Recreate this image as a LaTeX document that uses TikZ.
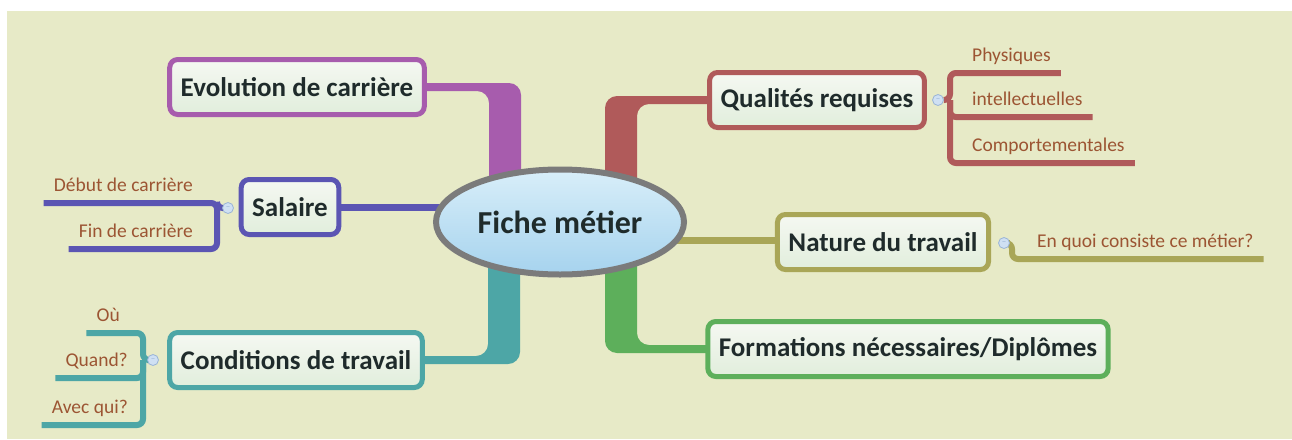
\documentclass[tikz,border=0pt]{standalone}
\usepackage{fontspec}
\setmainfont{Carlito}
\usetikzlibrary{shapes.geometric,backgrounds}

\definecolor{bgbeige}{RGB}{231,234,199}
\definecolor{cpurple}{RGB}{167,92,173}
\definecolor{cred}{RGB}{176,90,90}
\definecolor{cblue}{RGB}{91,85,179}
\definecolor{cteal}{RGB}{77,166,166}
\definecolor{colive}{RGB}{169,166,87}
\definecolor{cgreen}{RGB}{93,175,91}
\definecolor{ctext}{RGB}{31,43,43}
\definecolor{csub}{RGB}{156,85,51}
\definecolor{boxtop}{RGB}{245,248,242}
\definecolor{boxbot}{RGB}{225,238,220}
\definecolor{elltop}{RGB}{216,238,249}
\definecolor{ellbot}{RGB}{166,211,238}
\definecolor{ellline}{RGB}{123,123,123}
\definecolor{togfill}{RGB}{207,224,243}
\definecolor{togline}{RGB}{154,180,214}

\tikzset{
  topic/.style={draw=#1, line width=5pt, rounded corners=8pt, top color=boxtop, bottom color=boxbot,
    font=\fontsize{27}{29}\selectfont\bfseries, text=ctext, inner xsep=11pt, minimum height=55pt},
  sublabel/.style={font=\fontsize{19.5}{21}\selectfont, text=csub, inner xsep=10pt, inner ysep=7pt,
    text height=13pt, text depth=4pt},
  subline/.style={draw=#1, line width=6pt, rounded corners=6pt},
  toggle/.style={circle, minimum size=11pt, inner sep=0pt, fill=togfill, draw=togline, line width=0.8pt,
    text=togline, font=\fontsize{9}{9}\selectfont},
}

\begin{document}
\begin{tikzpicture}[x=1pt,y=-1pt]
\useasboundingbox (0,0) rectangle (1292,439);
% centre
\node[ellipse, draw=ellline, line width=6pt, top color=elltop, bottom color=ellbot, minimum width=248pt,
  minimum height=105pt, font=\fontsize{32}{34}\selectfont\bfseries, text=ctext] (fiche) at (560,222) {Fiche métier};
% main topics
\node[topic=cpurple] (evol) at (297,87) {Evolution de carrière};
\node[topic=cblue] (sal) at (290,207) {Salaire};
\node[topic=cteal] (cond) at (296,360) {Conditions de travail};
\node[topic=cred] (qual) at (817,100) {Qualités requises};
\node[topic=colive] (nat) at (883,242) {Nature du travail};
\node[topic=cgreen] (form) at (908,349) {Formations nécessaires/Diplômes};
% toggles
\node[toggle] (qtog) at (938,100) {–};
\node[toggle] (ntog) at (1004,243) {–};
\node[toggle] (stog) at (228,208) {–};
\node[toggle] (ctog) at (153,360) {–};
% sub topics
\node[sublabel, anchor=south west] (phys) at (962,73) {Physiques};
\node[sublabel, anchor=south west] (intel) at (962,117) {intellectuelles};
\node[sublabel, anchor=south west] (comp) at (962,163) {Comportementales};
\node[sublabel, anchor=south west] (enquoi) at (1027,259) {En quoi consiste ce métier?};
\node[sublabel, anchor=south east] (debut) at (203,203) {Début de carrière};
\node[sublabel, anchor=south east] (fin) at (203,249) {Fin de carrière};
\node[sublabel, anchor=south east] (ou) at (130,333) {Où};
\node[sublabel, anchor=south east] (quand) at (138,378) {Quand?};
\node[sublabel, anchor=south east] (avec) at (138,425) {Avec qui?};
% bends
\coordinate (qualb) at (950,100);
\coordinate (natb) at (1012,243);
\coordinate (salb) at (217,208);
\coordinate (condb) at (143,360);
\coordinate (evolk) at (505,87);
\coordinate (qualk) at (621,100);
\coordinate (condk) at (504,360);
\coordinate (formk) at (621,349);

\begin{scope}[on background layer]
\fill[white] (0,0) rectangle (1292,439);
\fill[bgbeige] (7,11) rectangle (1292,439);
% main branches
\fill[cpurple, rounded corners=12pt] ([xshift=-14pt,yshift=4pt]evol.east) -- ([xshift=16pt,yshift=4pt]evolk)
  -- ([xshift=16pt]evolk |- fiche.center) -- ([xshift=-16pt]evolk |- fiche.center)
  -- ([xshift=-16pt,yshift=-4pt]evolk) -- ([xshift=-14pt,yshift=-4pt]evol.east) -- cycle;
\fill[cred, rounded corners=12pt] ([xshift=-16pt]qualk |- fiche.center) -- ([xshift=-16pt,yshift=4pt]qualk)
  -- ([xshift=14pt,yshift=4pt]qual.west) -- ([xshift=14pt,yshift=-4pt]qual.west) -- ([xshift=16pt,yshift=-4pt]qualk)
  -- ([xshift=16pt]qualk |- fiche.center) -- cycle;
\fill[cteal, rounded corners=12pt] ([xshift=-14pt,yshift=4pt]cond.east) -- ([xshift=-16pt,yshift=4pt]condk)
  -- ([xshift=-16pt]condk |- fiche.center) -- ([xshift=16pt]condk |- fiche.center)
  -- ([xshift=16pt,yshift=-4pt]condk) -- ([xshift=-14pt,yshift=-4pt]cond.east) -- cycle;
\fill[cgreen, rounded corners=12pt] ([xshift=-16pt]formk |- fiche.center) -- ([xshift=-16pt,yshift=-4pt]formk)
  -- ([xshift=14pt,yshift=-4pt]form.west) -- ([xshift=14pt,yshift=4pt]form.west) -- ([xshift=16pt,yshift=4pt]formk)
  -- ([xshift=16pt]formk |- fiche.center) -- cycle;
\draw[cblue, line width=7pt] (sal.east) -- (sal.east -| fiche.center);
\draw[colive, line width=7pt] ([yshift=2pt]nat.west) -- ([yshift=2pt]nat.west -| fiche.center);
% sub branches
\draw[subline=cred] (qtog.east) -- (qualb) |- (phys.south east);
\draw[subline=cred] (qualb) |- (intel.south east);
\draw[subline=cred] (qualb) |- (comp.south east);
\draw[subline=colive] (ntog.east) -- (natb) |- (enquoi.south east);
\draw[subline=cblue] (stog.west) -- (salb) |- (debut.south west);
\draw[subline=cblue] (salb) |- (fin.south west);
\draw[subline=cteal] (ctog.west) -- (condb) |- (ou.south west);
\draw[subline=cteal] (condb) |- (quand.south west);
\draw[subline=cteal] (condb) |- (avec.south west);
\end{scope}
\end{tikzpicture}
\end{document}
